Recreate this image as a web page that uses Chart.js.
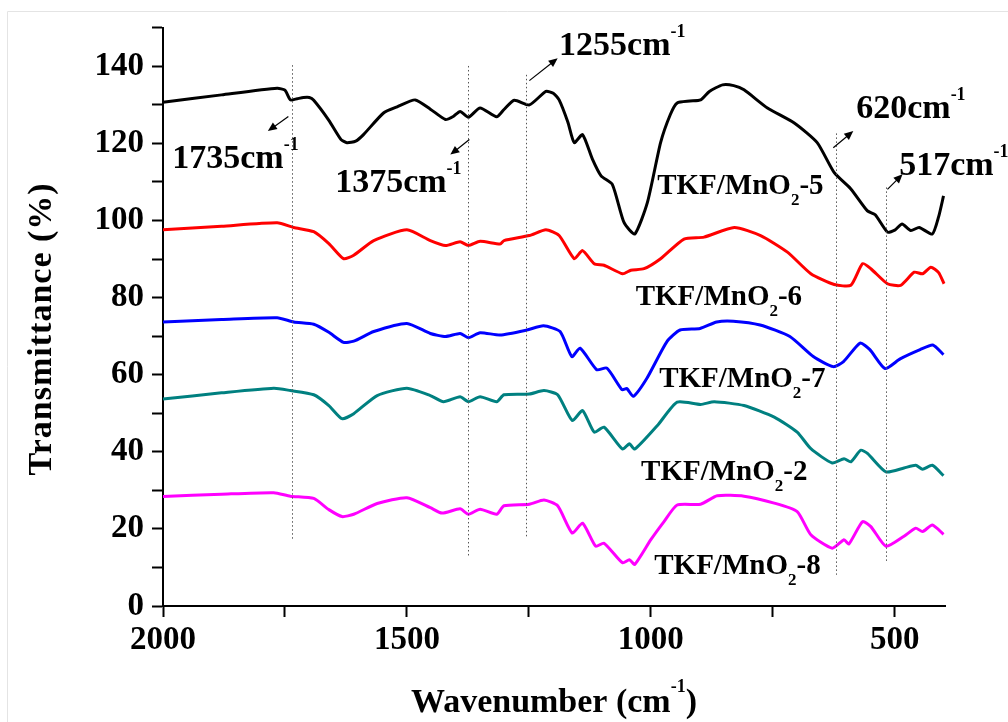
<!DOCTYPE html>
<html>
<head>
<meta charset="utf-8">
<title>FTIR TKF/MnO2</title>
<script src="https://cdn.jsdelivr.net/npm/chart.js@4.4.1/dist/chart.umd.min.js"></script>
<style>
    html, body { margin: 0; padding: 0; background: #fff; }
    #wrap { width: 1008px; height: 722px; position: relative; }
</style>
</head>
<body>
<div id="wrap"><canvas id="ftirChart"></canvas></div>
<script>
// Spektren (Wellenzahl in cm-1, Transmission in %)
const wn5 = [2000, 1880, 1766, 1750, 1739, 1725, 1712, 1700, 1691, 1660, 1635, 1623, 1605, 1589, 1548, 1520, 1483, 1452, 1421, 1405, 1391, 1374, 1350, 1316, 1301, 1280, 1249, 1215, 1200, 1188, 1170, 1157, 1140, 1120, 1102, 1079, 1055, 1033, 1007, 980, 960, 946, 920, 898, 880, 853, 830, 809, 761, 706, 659, 624, 590, 556, 540, 515, 500, 485, 467, 450, 423, 410, 400];
const t5  = [130.7, 132.6, 134.3, 133.8, 131.3, 131.6, 131.9, 131.9, 131.2, 126.0, 121.0, 120.2, 120.6, 122.3, 127.9, 129.5, 131.3, 128.9, 126.2, 127.0, 128.3, 126.8, 129.2, 126.9, 128.8, 131.2, 130.0, 133.5, 133.0, 131.3, 125.5, 120.2, 122.3, 116.0, 111.6, 109.4, 99.5, 96.5, 104.7, 120.2, 127.5, 130.5, 131.0, 131.3, 133.5, 135.2, 135.0, 133.9, 129.2, 125.3, 120.2, 112.4, 108.2, 102.5, 101.5, 97.0, 97.5, 99.1, 97.4, 98.2, 96.5, 101.0, 106.4];

const wn6 = [2000, 1880, 1766, 1732, 1691, 1660, 1630, 1609, 1568, 1500, 1452, 1421, 1391, 1374, 1350, 1309, 1301, 1249, 1215, 1188, 1157, 1140, 1116, 1096, 1058, 1041, 1014, 980, 932, 891, 829, 775, 720, 672, 624, 590, 566, 549, 515, 488, 460, 443, 426, 410, 399];
const t6  = [97.6, 98.5, 99.4, 98.2, 97.1, 94.0, 90.1, 91.0, 94.8, 97.6, 94.8, 93.5, 94.5, 93.5, 94.6, 93.9, 94.8, 96.1, 97.6, 96.1, 90.1, 92.2, 88.8, 88.4, 86.2, 87.1, 87.5, 90.1, 95.2, 95.7, 98.2, 96.1, 91.8, 86.2, 83.4, 83.2, 88.8, 87.5, 83.6, 83.2, 86.6, 86.2, 87.9, 86.5, 83.6];

const wn7 = [2000, 1880, 1766, 1732, 1691, 1660, 1630, 1609, 1568, 1500, 1452, 1421, 1391, 1374, 1350, 1309, 1254, 1220, 1186, 1162, 1145, 1111, 1090, 1059, 1049, 1036, 1008, 967, 940, 899, 865, 831, 776, 715, 667, 626, 605, 571, 551, 520, 489, 448, 422, 400];
const t7  = [73.7, 74.3, 74.8, 73.7, 73.1, 71.0, 68.4, 68.7, 71.2, 73.3, 70.7, 69.9, 70.7, 69.6, 70.9, 70.3, 71.6, 72.7, 71.2, 64.7, 66.9, 61.3, 61.7, 56.1, 56.4, 54.4, 59.1, 68.6, 71.6, 72.0, 73.7, 73.9, 72.9, 69.9, 64.7, 62.1, 63.4, 68.2, 66.5, 61.6, 64.1, 66.5, 67.7, 65.2];

const wn2 = [2000, 1880, 1773, 1739, 1691, 1660, 1633, 1609, 1561, 1500, 1452, 1425, 1391, 1374, 1350, 1316, 1301, 1249, 1219, 1191, 1161, 1140, 1116, 1096, 1058, 1044, 1033, 986, 946, 898, 870, 809, 747, 700, 672, 628, 604, 590, 570, 556, 518, 481, 457, 443, 423, 400];
const t2  = [53.7, 55.3, 56.5, 55.9, 54.8, 52.0, 48.6, 49.9, 54.6, 56.5, 54.6, 53.0, 54.3, 53.0, 54.3, 53.0, 54.8, 55.0, 55.9, 54.8, 48.1, 50.7, 45.1, 46.4, 40.7, 42.1, 40.7, 46.9, 52.9, 52.3, 53.0, 52.0, 49.0, 45.1, 40.8, 37.1, 38.2, 37.4, 40.4, 39.6, 34.8, 35.8, 36.5, 35.5, 36.5, 33.8];

const wn8 = [2000, 1880, 1773, 1739, 1691, 1660, 1633, 1609, 1561, 1500, 1452, 1428, 1391, 1374, 1350, 1316, 1301, 1249, 1219, 1191, 1161, 1140, 1113, 1096, 1058, 1044, 1033, 1000, 973, 946, 898, 864, 809, 747, 700, 672, 628, 604, 594, 566, 549, 518, 481, 457, 443, 423, 400];
const t8  = [28.4, 29.0, 29.4, 28.5, 27.9, 25.0, 23.2, 23.8, 26.6, 28.1, 25.5, 24.1, 25.2, 23.8, 25.1, 23.8, 26.0, 26.4, 27.5, 26.0, 18.9, 21.5, 15.5, 16.3, 11.2, 12.0, 10.8, 17.2, 21.9, 26.2, 26.4, 28.6, 28.5, 26.7, 24.5, 18.5, 15.0, 17.2, 16.1, 21.9, 20.6, 15.5, 18.1, 20.2, 19.3, 21.0, 18.6];

// Achsen
const xTickValues = [2000, 1750, 1500, 1250, 1000, 750, 500];
const yTickValues = [0, 10, 20, 30, 40, 50, 60, 70, 80, 90, 100, 110, 120, 130, 140, 150];

// Beschriftung der Kurven: [Suffix, Wellenzahl links, Wert der Grundlinie]
const seriesLabels = [
    ['5', 987, 106.9],
    ['6', 1031, 78.1],
    ['7', 983, 56.7],
    ['2', 1020, 32.7],
    ['8', 993, 8.2]
];

// Markierte Banden: Wellenzahl, Linie oben/unten, Pfeil (von/nach), Textposition
const peaks = [1735, 1375, 1255, 620, 517];
const peakLineTop = [140.3, 140.1, 137.8, 122.6, 108.6];
const peakLineBottom = [17.4, 13.0, 17.6, 8.1, 11.6];
const arrowFrom = [[1743, 127.0], [1372, 121.0], [1249, 136.3], [626, 118.9], [515, 108.1]];
const arrowTo = [[1785, 123.2], [1411, 117.1], [1191, 142.1], [585, 123.2], [484, 112.0]];
const peakTextPos = [[1981, 113.7], [1647, 107.3], [1188, 142.9], [579, 126.6], [491, 111.9]];

const SERIF = '"Liberation Serif", "Times New Roman", serif';

function toPoints(xs, ys) {
    return xs.map((x, i) => ({ x: x, y: ys[i] }));
}

/**
 * Zeichnet Text mit Hoch-/Tiefstellung. parts: [{t, size, dy}]
 */
function drawRich(ctx, parts, x, y) {
    let cx = x;
    parts.forEach(p => {
        ctx.font = 'bold ' + p.size + 'px ' + SERIF;
        ctx.fillText(p.t, cx, y + (p.dy || 0));
        cx += ctx.measureText(p.t).width;
    });
    return cx - x;
}

function drawArrow(ctx, x1, y1, x2, y2) {
    const ang = Math.atan2(y2 - y1, x2 - x1);
    const head = 9, half = 4;
    ctx.beginPath();
    ctx.moveTo(x1, y1);
    ctx.lineTo(x2 - Math.cos(ang) * head * 0.8, y2 - Math.sin(ang) * head * 0.8);
    ctx.stroke();
    ctx.beginPath();
    ctx.moveTo(x2, y2);
    ctx.lineTo(x2 - head * Math.cos(ang) + half * Math.sin(ang), y2 - head * Math.sin(ang) - half * Math.cos(ang));
    ctx.lineTo(x2 - head * Math.cos(ang) - half * Math.sin(ang), y2 - head * Math.sin(ang) + half * Math.cos(ang));
    ctx.closePath();
    ctx.fill();
}

// Plugin für Markierungen, Beschriftungen und Achsentitel
const annotationPlugin = {
    id: 'ftirAnnotations',
    afterDatasetsDraw(chart) {
        const ctx = chart.ctx;
        const xs = chart.scales.x, ys = chart.scales.y;
        ctx.save();

        // gepunktete Linien
        ctx.strokeStyle = '#555';
        ctx.lineWidth = 1;
        ctx.setLineDash([1.5, 2.5]);
        peaks.forEach((p, i) => {
            const px = Math.round(xs.getPixelForValue(p)) + 0.5;
            ctx.beginPath();
            ctx.moveTo(px, ys.getPixelForValue(peakLineTop[i]));
            ctx.lineTo(px, ys.getPixelForValue(peakLineBottom[i]));
            ctx.stroke();
        });
        ctx.setLineDash([]);

        // Pfeile
        ctx.strokeStyle = '#000';
        ctx.fillStyle = '#000';
        ctx.lineWidth = 1.2;
        peaks.forEach((p, i) => {
            drawArrow(ctx,
                xs.getPixelForValue(arrowFrom[i][0]), ys.getPixelForValue(arrowFrom[i][1]),
                xs.getPixelForValue(arrowTo[i][0]), ys.getPixelForValue(arrowTo[i][1]));
        });

        // Bandenbeschriftung
        ctx.textBaseline = 'alphabetic';
        ctx.textAlign = 'left';
        peaks.forEach((p, i) => {
            drawRich(ctx, [
                { t: p + 'cm', size: 34 },
                { t: '-1', size: 18, dy: -18 }
            ], xs.getPixelForValue(peakTextPos[i][0]), ys.getPixelForValue(peakTextPos[i][1]));
        });

        // Kurvenbeschriftung
        seriesLabels.forEach(l => {
            drawRich(ctx, [
                { t: 'TKF/MnO', size: 29 },
                { t: '2', size: 17, dy: 11 },
                { t: '-' + l[0], size: 29 }
            ], xs.getPixelForValue(l[1]), ys.getPixelForValue(l[2]));
        });
        ctx.restore();
    },
    afterDraw(chart) {
        const ctx = chart.ctx;
        const area = chart.chartArea;
        ctx.save();
        ctx.fillStyle = '#000';

        // x-Achsentitel
        ctx.font = 'bold 34px ' + SERIF;
        const w1 = ctx.measureText('Wavenumber (cm').width;
        ctx.font = 'bold 18px ' + SERIF;
        const w2 = ctx.measureText('-1').width;
        ctx.font = 'bold 34px ' + SERIF;
        const w3 = ctx.measureText(')').width;
        const cx = (area.left + area.right) / 2;
        drawRich(ctx, [
            { t: 'Wavenumber (cm', size: 34 },
            { t: '-1', size: 18, dy: -20 },
            { t: ')', size: 34 }
        ], cx - (w1 + w2 + w3) / 2, 712);

        // y-Achsentitel
        ctx.translate(51, (area.top + area.bottom) / 2 + 12);
        ctx.rotate(-Math.PI / 2);
        ctx.font = 'bold 34px ' + SERIF;
        ctx.letterSpacing = '1px';
        ctx.textAlign = 'center';
        ctx.fillText('Transmittance (%)', 0, 0);
        ctx.restore();

        // heller Rahmen
        ctx.save();
        ctx.strokeStyle = '#e4e4e4';
        ctx.lineWidth = 1;
        ctx.beginPath();
        ctx.moveTo(7.5, 722);
        ctx.lineTo(7.5, 11.5);
        ctx.lineTo(1008, 11.5);
        ctx.stroke();
        ctx.restore();
    }
};

function makeDataset(label, xs, ys, color) {
    return {
        label: label,
        data: toPoints(xs, ys),
        borderColor: color,
        borderWidth: 3,
        pointRadius: 0,
        tension: 0.2,
        fill: false,
        clip: false
    };
}

const tickFont = { family: SERIF, size: 33, weight: 'bold' };

new Chart(document.getElementById('ftirChart').getContext('2d'), {
    type: 'line',
    data: {
        datasets: [
            makeDataset('TKF/MnO2-5', wn5, t5, '#000000'),
            makeDataset('TKF/MnO2-6', wn6, t6, '#ff0000'),
            makeDataset('TKF/MnO2-7', wn7, t7, '#0000ff'),
            makeDataset('TKF/MnO2-2', wn2, t2, '#008080'),
            makeDataset('TKF/MnO2-8', wn8, t8, '#ff00ff')
        ]
    },
    options: {
        responsive: true,
        maintainAspectRatio: false,
        animation: false,
        layout: { padding: { left: 0, right: 63, top: 24, bottom: 0 } },
        plugins: { legend: { display: false }, tooltip: { enabled: false } },
        scales: {
            x: {
                type: 'linear',
                reverse: true,
                min: 397,
                max: 2000,
                afterBuildTicks: (s) => { s.ticks = xTickValues.map(v => ({ value: v })); },
                afterFit: (s) => { s.height = 116; },
                ticks: {
                    autoSkip: false,
                    maxRotation: 0,
                    padding: 4,
                    color: '#000',
                    font: tickFont,
                    callback: (v) => (v % 500 === 0 ? String(v) : '')
                },
                grid: { drawOnChartArea: false, tickLength: 11, tickWidth: 2, tickColor: '#000' },
                border: { color: '#000', width: 2 }
            },
            y: {
                type: 'linear',
                min: 0,
                max: 150,
                afterBuildTicks: (s) => { s.ticks = yTickValues.map(v => ({ value: v })); },
                afterFit: (s) => { s.width = 163; },
                ticks: {
                    autoSkip: false,
                    padding: 8,
                    color: '#000',
                    font: tickFont,
                    callback: (v) => (v % 20 === 0 ? String(v) : '')
                },
                grid: { drawOnChartArea: false, tickLength: 11, tickWidth: 2, tickColor: '#000' },
                border: { color: '#000', width: 2 }
            }
        }
    },
    plugins: [annotationPlugin]
});
</script>
</body>
</html>
